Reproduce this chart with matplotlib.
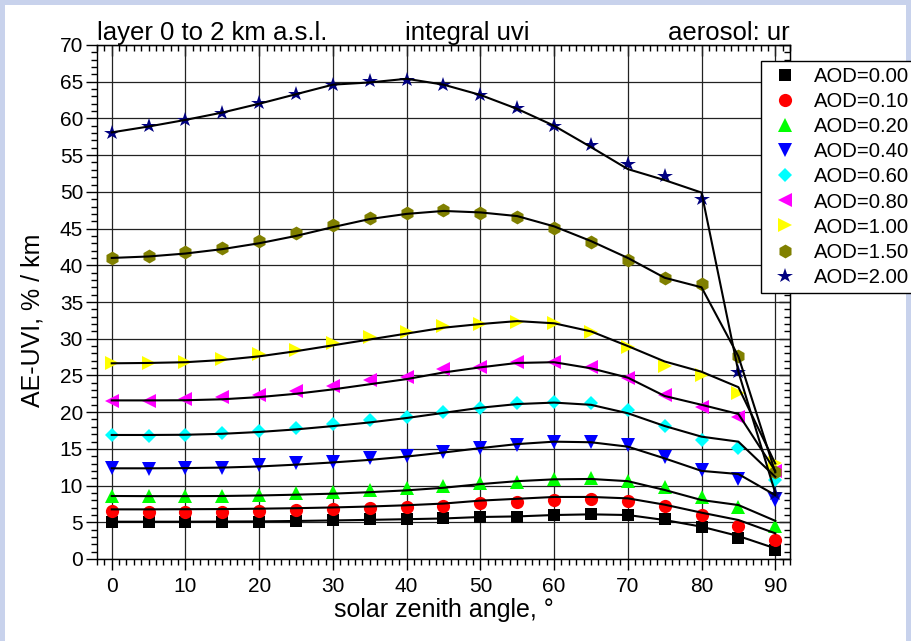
import matplotlib
matplotlib.use('Agg')
import matplotlib.pyplot as plt
import matplotlib.ticker as ticker
import matplotlib.patches as patches

plt.rcParams['font.family'] = ['Liberation Sans', 'DejaVu Sans']

# solar zenith angle, deg
sza = [0, 5, 10, 15, 20, 25, 30, 35, 40, 45, 50, 55, 60, 65, 70, 75, 80, 85, 90]

# symbols
aod000 = [5.08, 5.08, 5.08, 5.08, 5.08, 5.22, 5.31, 5.40, 5.45, 5.54, 5.67, 5.76, 5.99, 6.13, 5.99, 5.45, 4.31, 2.82, 1.23]
aod010 = [6.58, 6.44, 6.44, 6.44, 6.58, 6.67, 6.76, 6.90, 7.04, 7.26, 7.58, 7.80, 8.03, 8.13, 7.94, 7.26, 5.99, 4.54, 2.59]
aod020 = [8.58, 8.53, 8.53, 8.53, 8.72, 8.94, 9.17, 9.40, 9.62, 9.94, 10.30, 10.53, 10.85, 10.98, 10.67, 9.76, 8.40, 7.04, 4.54]
aod040 = [12.35, 12.21, 12.35, 12.44, 12.80, 13.03, 13.25, 13.71, 14.03, 14.61, 15.07, 15.52, 15.98, 15.98, 15.52, 13.85, 12.12, 10.85, 8.03]
aod060 = [16.89, 16.80, 16.89, 17.12, 17.43, 17.88, 18.34, 18.93, 19.38, 20.06, 20.52, 21.20, 21.42, 21.20, 20.29, 18.11, 16.20, 15.07, 10.76]
aod080 = [21.56, 21.56, 21.74, 22.00, 22.33, 22.92, 23.56, 24.38, 24.83, 25.83, 26.19, 26.87, 26.87, 26.20, 24.60, 22.33, 20.66, 19.30, 12.0]
aod100 = [26.65, 26.65, 26.87, 27.20, 27.90, 28.46, 29.37, 30.19, 30.87, 31.70, 32.00, 32.30, 32.20, 30.96, 28.90, 26.30, 25.06, 22.65, 13.1]
aod150 = [41.04, 41.26, 41.77, 42.40, 43.30, 44.35, 45.49, 46.40, 47.08, 47.53, 47.17, 46.62, 45.12, 43.21, 40.72, 38.23, 37.41, 27.65, 11.8]
aod200 = [58.06, 58.97, 59.80, 60.80, 62.05, 63.30, 64.50, 65.05, 65.20, 64.55, 63.20, 61.40, 58.97, 56.40, 53.80, 52.16, 49.00, 25.50, 8.9]

# black curves (slightly different from the symbols)
fit000 = [5.08, 5.08, 5.08, 5.10, 5.12, 5.18, 5.25, 5.33, 5.42, 5.52, 5.72, 5.80, 5.99, 6.08, 5.99, 5.31, 4.40, 3.13, 1.45]
fit010 = [6.76, 6.76, 6.78, 6.80, 6.85, 6.92, 7.02, 7.15, 7.32, 7.55, 7.95, 8.20, 8.45, 8.45, 8.26, 7.40, 6.31, 5.31, 3.50]
fit020 = [8.58, 8.56, 8.56, 8.58, 8.65, 8.76, 8.90, 9.10, 9.35, 9.70, 10.20, 10.60, 10.85, 10.90, 10.60, 9.40, 8.03, 7.35, 5.20]
fit040 = [12.35, 12.35, 12.38, 12.45, 12.60, 12.85, 13.15, 13.50, 13.95, 14.50, 15.10, 15.65, 15.98, 15.90, 15.30, 13.70, 12.00, 11.57, 8.70]
fit060 = [16.89, 16.89, 16.92, 17.05, 17.30, 17.65, 18.10, 18.60, 19.20, 19.90, 20.60, 21.10, 21.30, 21.00, 19.85, 18.11, 16.66, 15.98, 11.20]
fit080 = [21.60, 21.60, 21.62, 21.75, 22.05, 22.50, 23.10, 23.80, 24.50, 25.40, 26.10, 26.70, 26.80, 25.97, 24.70, 22.20, 21.00, 19.75, 12.00]
fit100 = [26.65, 26.70, 26.80, 27.10, 27.60, 28.30, 29.10, 29.90, 30.70, 31.50, 32.00, 32.40, 32.10, 31.00, 29.00, 26.90, 25.50, 23.40, 13.00]
fit150 = [41.00, 41.20, 41.60, 42.20, 43.00, 44.00, 45.20, 46.30, 47.00, 47.40, 47.20, 46.70, 45.30, 43.30, 41.00, 38.30, 37.00, 27.60, 11.80]
fit200 = [58.10, 58.90, 59.80, 60.80, 62.00, 63.30, 64.60, 64.90, 65.40, 64.60, 63.20, 61.30, 59.00, 56.10, 53.10, 51.60, 49.90, 25.50, 9.00]

labels = ['AOD=0.00', 'AOD=0.10', 'AOD=0.20', 'AOD=0.40', 'AOD=0.60',
          'AOD=0.80', 'AOD=1.00', 'AOD=1.50', 'AOD=2.00']
markers = ['s', 'o', '^', 'v', 'D', '<', '>', 'h', '*']
colors = ['#000000', '#ff0000', '#00ff00', '#0000ff', '#00ffff',
          '#ff00ff', '#ffff00', '#808000', '#000080']
msizes = [8.5, 9.5, 10, 10, 7.5, 10, 10, 10, 11.5]
points = [aod000, aod010, aod020, aod040, aod060, aod080, aod100, aod150, aod200]
curves = [fit000, fit010, fit020, fit040, fit060, fit080, fit100, fit150, fit200]

W, H = 912, 641
fig = plt.figure(figsize=(W / 100, H / 100), dpi=100)
fig.patch.set_facecolor('#c8d2ec')
panel = patches.Rectangle((5 / W, 0), 901 / W, 636 / H, transform=fig.transFigure,
                          facecolor='white', edgecolor='none', zorder=-10)
fig.add_artist(panel)

ax = fig.add_axes([97 / W, 1 - 559 / H, 693 / W, 514 / H])
ax.set_facecolor('white')

for lab, m, c, ms, y in zip(labels, markers, colors, msizes, points):
    ax.plot(sza, y, linestyle='none', marker=m, color=c, markersize=ms,
            markeredgewidth=0, label=lab, zorder=3, clip_on=False)
for y in curves:
    ax.plot(sza, y, color='k', linewidth=1.5, zorder=4)

ax.set_xlim(-2, 92)
ax.set_ylim(0, 70)
ax.xaxis.set_major_locator(ticker.MultipleLocator(10))
ax.xaxis.set_minor_locator(ticker.MultipleLocator(1))
ax.yaxis.set_major_locator(ticker.MultipleLocator(5))
ax.yaxis.set_minor_locator(ticker.MultipleLocator(1))
ax.grid(True, which='major', color='#222222', linewidth=0.9, zorder=1)
ax.set_axisbelow(True)

ax.tick_params(which='major', direction='out', length=8, width=1, labelsize=15)
ax.tick_params(which='minor', direction='out', length=4, width=1)
ax.tick_params(axis='x', pad=5)
ax.tick_params(axis='y', pad=2)
for s in ax.spines.values():
    s.set_linewidth(1.0)

# inward ticks on top and right
top = ax.secondary_xaxis('top')
top.xaxis.set_major_locator(ticker.MultipleLocator(10))
top.xaxis.set_minor_locator(ticker.MultipleLocator(1))
top.xaxis.set_major_formatter(ticker.NullFormatter())
top.tick_params(which='major', direction='in', length=8, width=1)
top.tick_params(which='minor', direction='in', length=4, width=1)
right = ax.secondary_yaxis('right')
right.yaxis.set_major_locator(ticker.MultipleLocator(5))
right.yaxis.set_minor_locator(ticker.MultipleLocator(1))
right.yaxis.set_major_formatter(ticker.NullFormatter())
right.tick_params(which='major', direction='in', length=8, width=1)
right.tick_params(which='minor', direction='in', length=4, width=1)

yb = (559 - 40) / 514
ax.text(0.0, yb, 'layer 0 to 2 km a.s.l.', transform=ax.transAxes,
        ha='left', va='baseline', fontsize=18.5)
ax.text((467 - 97) / 693, yb, 'integral uvi', transform=ax.transAxes,
        ha='center', va='baseline', fontsize=18.5)
ax.text(1.0, yb, 'aerosol: ur', transform=ax.transAxes,
        ha='right', va='baseline', fontsize=18.5)

fig.text(444 / W, 1 - 610 / H, 'solar zenith angle, °', ha='center', va='center', fontsize=18)
fig.text(33 / W, 1 - 320 / H, 'AE-UVI, % / km', ha='center', va='center',
         rotation=90, fontsize=18)

# legend box runs past the right edge of the picture
leg = ax.legend(loc='upper left', mode='expand',
                bbox_to_anchor=(761 / W, 1 - 61 / H - 0.5, 165 / W, 0.5),
                bbox_transform=fig.transFigure, fontsize=14.6, fancybox=False,
                edgecolor='black', framealpha=1, borderpad=0.3, labelspacing=0.3,
                handlelength=1.75, handletextpad=0.55, borderaxespad=0, numpoints=1)
leg.get_frame().set_linewidth(1.0)
leg.set_zorder(10)

fig.savefig('out.png', dpi=100)
